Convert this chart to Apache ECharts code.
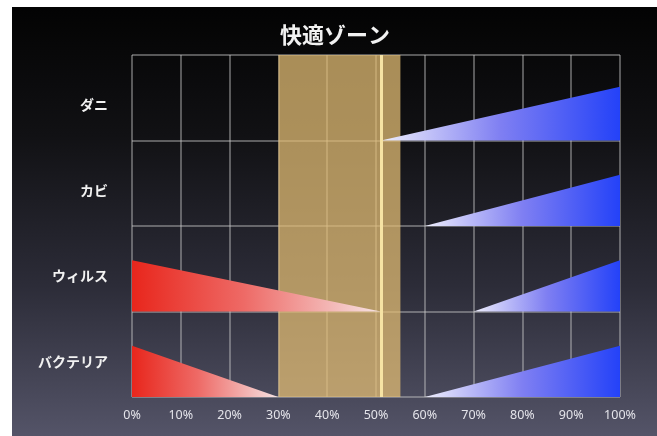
<!DOCTYPE html>
<html>
<head>
<meta charset="utf-8">
<script src="https://cdn.jsdelivr.net/npm/echarts@6/dist/echarts.min.js"></script>
<style>
  html, body { margin: 0; padding: 0; background: #fff; }
  #main { position: absolute; left: 12px; top: 7px; width: 645px; height: 429px; }
</style>
</head>
<body>
<div id="main"></div>
<script>
// rows from top to bottom
const rows = ['ダニ', 'カビ', 'ウィルス', 'バクテリア'];
const xLabels = ['0%', '10%', '20%', '30%', '40%', '50%', '60%', '70%', '80%', '90%', '100%'];

// too dry: red wedge from 0% down to dryEnd
const dryEnd = [null, null, 51, 30];
const dryHeight = [null, null, 0.6, 0.6];
// too wet: blue wedge from wetStart up to 100%
const wetStart = [51, 60, 70, 60];
const wetHeight = [0.63, 0.6, 0.6, 0.6];

const comfortZone = [30, 55];
const optimum = 51;

var chartDom = document.getElementById('main');
var myChart = echarts.init(chartDom);

var redFill = new echarts.graphic.LinearGradient(0, 0, 1, 0, [
  { offset: 0, color: '#e8261c' },
  { offset: 0.45, color: '#ee6a66' },
  { offset: 1, color: '#f6e4e4' }
]);
var blueFill = new echarts.graphic.LinearGradient(0, 0, 1, 0, [
  { offset: 0, color: '#eeeefc' },
  { offset: 0.5, color: '#7f7ff2' },
  { offset: 1, color: '#2442f8' }
]);

var series = [];
rows.forEach(function (name, i) {
  var base = rows.length - 1 - i;
  if (dryEnd[i] != null) {
    series.push({
      type: 'line',
      data: [[0, base + dryHeight[i]], [dryEnd[i], base]],
      symbol: 'none',
      lineStyle: { width: 0 },
      areaStyle: { origin: base, color: redFill, opacity: 1 },
      silent: true,
      z: 2
    });
  }
  series.push({
    type: 'line',
    data: [[wetStart[i], base], [100, base + wetHeight[i]]],
    symbol: 'none',
    lineStyle: { width: 0 },
    areaStyle: { origin: base, color: blueFill, opacity: 1 },
    silent: true,
    z: 2
  });
});

// comfort band and optimum line on top
series.push({
  type: 'line',
  data: [],
  z: 5,
  markArea: {
    silent: true,
    itemStyle: { color: 'rgba(226,189,116,0.74)' },
    data: [[{ xAxis: comfortZone[0] }, { xAxis: comfortZone[1] }]]
  },
  markLine: {
    silent: true,
    symbol: 'none',
    label: { show: false },
    lineStyle: { color: '#f6e3a4', width: 3, type: 'solid' },
    data: [{ xAxis: optimum }]
  }
});

var option = {
  backgroundColor: new echarts.graphic.LinearGradient(0, 0, 0, 1, [
    { offset: 0, color: '#030303' },
    { offset: 0.3, color: '#111114' },
    { offset: 0.65, color: '#2c2c38' },
    { offset: 1, color: '#545468' }
  ]),
  animation: false,
  title: {
    text: '快適ゾーン',
    left: 318,
    top: 12,
    textAlign: 'center',
    textStyle: {
      color: '#f2f2f2',
      fontSize: 22,
      fontWeight: 'bold',
      fontFamily: 'Noto Sans CJK JP'
    }
  },
  grid: { left: 120, right: 37, top: 48, bottom: 39 },
  xAxis: {
    type: 'value',
    min: 0,
    max: 100,
    interval: 10,
    axisLine: { show: false },
    axisTick: { show: false },
    axisLabel: {
      color: '#e4e4ea',
      fontSize: 12.5,
      fontFamily: 'Noto Sans',
      margin: 12,
      formatter: function (v) { return xLabels[Math.round(v / 10)]; }
    },
    splitLine: { show: true, lineStyle: { color: 'rgba(205,205,205,0.55)', width: 1.5 } }
  },
  yAxis: [
    {
      type: 'value',
      min: 0,
      max: 4,
      interval: 1,
      axisLine: { show: false },
      axisTick: { show: false },
      axisLabel: { show: false },
      splitLine: { show: true, lineStyle: { color: 'rgba(205,205,205,0.55)', width: 1.5 } }
    },
    {
      type: 'category',
      inverse: true,
      position: 'left',
      data: rows,
      axisLine: { show: false },
      axisTick: { show: false },
      splitLine: { show: false },
      axisLabel: {
        color: '#f2f2f2',
        fontSize: 14,
        fontWeight: 'bold',
        fontFamily: 'Noto Sans CJK JP',
        margin: 24,
        verticalAlign: 'top'
      }
    }
  ],
  series: series
};

option && myChart.setOption(option);
</script>
</body>
</html>
